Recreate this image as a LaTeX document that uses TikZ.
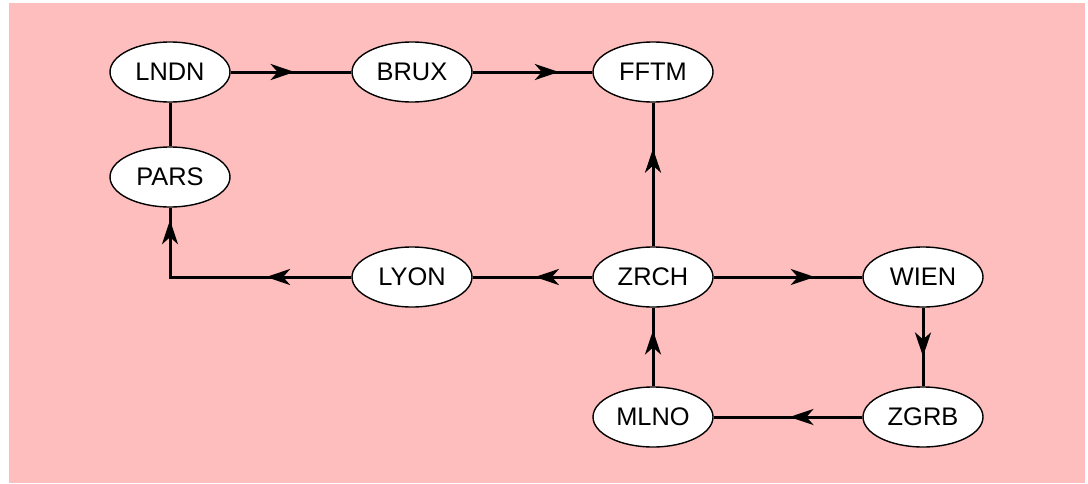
\documentclass[tikz,border=0pt]{standalone}
\usepackage{fontspec}
\setmainfont{Liberation Sans}
\usetikzlibrary{arrows.meta,positioning,shapes.geometric,decorations.markings}
\definecolor{rosebg}{HTML}{FFBEBE}

\begin{document}
\begin{tikzpicture}[x=0.5pt,y=-0.5pt,>={Stealth[length=12pt,width=8pt,inset=3.5pt]},on grid,
  city/.style={ellipse,draw,fill=white,line width=0.7pt,minimum width=60pt,minimum height=30pt,inner sep=0pt,font=\fontsize{12.7}{15}\selectfont},
  link/.style={line width=1.5pt},
  tipat/.style={postaction={decorate,decoration={markings,mark=at position #1 with {\arrow{>}}}}}]
\useasboundingbox (0,0) rectangle (1088,483);
\fill[rosebg] (9,3) rectangle (1085,483);
\node[city] (lndn) at (170,72) {LNDN};
\node[city,right=121pt of lndn] (brux) {BRUX};
\node[city,right=120.5pt of brux] (fftm) {FFTM};
\node[city,below=52.5pt of lndn] (pars) {PARS};
\node[city,below=102.5pt of brux] (lyon) {LYON};
\node[city,below=102.5pt of fftm] (zrch) {ZRCH};
\node[city,right=135pt of zrch] (wien) {WIEN};
\node[city,below=70pt of zrch] (mlno) {MLNO};
\node[city,below=70pt of wien] (zgrb) {ZGRB};
\draw[link] (lndn) -- (pars);
\draw[link,tipat=0.53] (lndn) -- (brux);
\draw[link,tipat=0.72] (brux) -- (fftm);
\draw[link,tipat=0.68] (zrch) -- (fftm);
\draw[link,tipat=0.48] (zrch) -- (lyon);
\draw[link,tipat=0.34,tipat=0.95] (lyon.west) -| (pars.south);
\draw[link,tipat=0.68] (zrch) -- (wien);
\draw[link,tipat=0.62] (wien) -- (zgrb);
\draw[link,tipat=0.49] (zgrb) -- (mlno);
\draw[link,tipat=0.71] (mlno) -- (zrch);
\end{tikzpicture}
\end{document}
